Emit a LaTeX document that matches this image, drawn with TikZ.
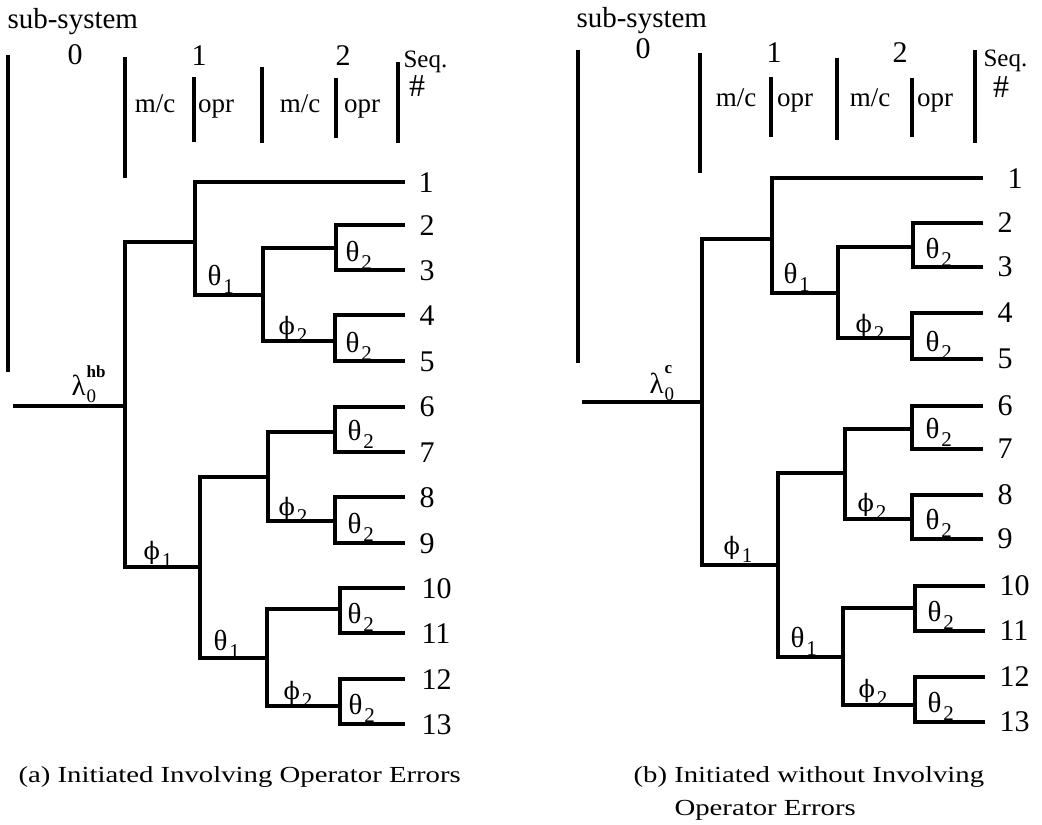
\documentclass[tikz,border=0pt]{standalone}
\usepackage{fontspec}
\setmainfont{Liberation Serif}
\newfontfamily\capfont[FakeStretch=1.25]{Liberation Serif}
\newfontfamily\phifont{DejaVu Serif}
\newcommand\gl[2]{#1\kern2pt\raisebox{-8pt}{\fontsize{21}{21}\selectfont #2}}
\newcommand\ph{{\phifont\fontsize{24}{24}\selectfont ϕ}}
\newcommand\lam[2]{λ\kern1pt\rlap{\raisebox{-7pt}{\fontsize{19}{19}\selectfont 0}}\raisebox{#2}{\fontsize{17}{17}\selectfont\bfseries #1}}
\begin{document}
\begin{tikzpicture}[x=1pt,y=-1pt,
  every path/.style={line width=3.1pt, line join=miter},
  txt/.style={inner sep=0pt, font=\fontsize{27}{27}\selectfont},
  num/.style={inner sep=0pt, anchor=base west, font=\fontsize{30}{30}\selectfont},
  lab/.style={inner sep=0pt, anchor=base west, font=\fontsize{29}{29}\selectfont},
  hd/.style={txt, anchor=base},
  hdl/.style={txt, anchor=base west},
  big/.style={inner sep=0pt, anchor=base, font=\fontsize{30}{30}\selectfont},
  captxt/.style={inner sep=0pt, anchor=base west, font=\capfont\fontsize{23}{23}\selectfont}]
\useasboundingbox (0,0) rectangle (1042,825);

% ================= panel (a) =================
% header
\node[txt, anchor=base west, font=\fontsize{29}{29}\selectfont] (asub) at (6,28) {sub-system};
\node[big] (ah0) at (75,64) {0};
\node[big] (ah1) at (199,65) {1};
\node[big] (ah2) at (343,65) {2};
\node[hd] (amc1) at (155,112) {m/c};
\node[hd] (aop1) at (216,112) {opr};
\node[hd] (amc2) at (300,112) {m/c};
\node[hd] (aop2) at (362,112) {opr};
\node[hdl, font=\fontsize{25}{25}\selectfont] (aseq) at (402,67) {Seq.};
\node[hd, font=\fontsize{32}{32}\selectfont] (ahash) at (417,96) {\#};
\coordinate (ab0t) at (8,55);   \coordinate (ab0b) at (8,372);
\coordinate (ab1t) at (125,57); \coordinate (ab1b) at (125,178);
\coordinate (ab2t) at (194,77); \coordinate (ab2b) at (194,142);
\coordinate (ab3t) at (262,67); \coordinate (ab3b) at (262,143);
\coordinate (ab4t) at (336,78); \coordinate (ab4b) at (336,138);
\coordinate (ab5t) at (398,62); \coordinate (ab5b) at (398,143);
\draw (ab0t) -- (ab0b); \draw (ab1t) -- (ab1b); \draw (ab2t) -- (ab2b);
\draw (ab3t) -- (ab3b); \draw (ab4t) -- (ab4b); \draw (ab5t) -- (ab5b);

% tree
\coordinate (aR0) at (13,406);  \coordinate (aR) at (125,406);
\coordinate (aRt) at (125,242); \coordinate (aRb) at (125,567);
\coordinate (aU) at (195,242);  \coordinate (aUt) at (195,182); \coordinate (aUb) at (195,295);
\coordinate (aL1) at (405,182);
\coordinate (aV) at (263,295);  \coordinate (aVt) at (263,248); \coordinate (aVb) at (263,341);
\coordinate (aW1) at (336,248); \coordinate (aW1t) at (336,225); \coordinate (aW1b) at (336,270);
\coordinate (aL2) at (405,225); \coordinate (aL3) at (405,270);
\coordinate (aW2) at (335,341); \coordinate (aW2t) at (335,315); \coordinate (aW2b) at (335,361);
\coordinate (aL4) at (405,315); \coordinate (aL5) at (405,361);
\coordinate (aD) at (200,567);  \coordinate (aDt) at (200,477); \coordinate (aDb) at (200,658);
\coordinate (aE) at (268,477);  \coordinate (aEt) at (268,432); \coordinate (aEb) at (268,521);
\coordinate (aW3) at (335,432); \coordinate (aW3t) at (335,407); \coordinate (aW3b) at (335,452);
\coordinate (aL6) at (405,407); \coordinate (aL7) at (405,452);
\coordinate (aW4) at (335,521); \coordinate (aW4t) at (335,497); \coordinate (aW4b) at (335,543);
\coordinate (aL8) at (405,497); \coordinate (aL9) at (405,543);
\coordinate (aF) at (267,658);  \coordinate (aFt) at (267,609); \coordinate (aFb) at (267,706);
\coordinate (aW5) at (340,609); \coordinate (aW5t) at (340,588); \coordinate (aW5b) at (340,633);
\coordinate (aL10) at (405,588); \coordinate (aL11) at (405,633);
\coordinate (aW6) at (340,706); \coordinate (aW6t) at (340,679); \coordinate (aW6b) at (340,724);
\coordinate (aL12) at (405,679); \coordinate (aL13) at (405,724);

\draw (aR0) -- (aR);
\draw (aU) -- (aRt) -- (aRb) -- (aD);
\draw (aL1) -- (aUt) -- (aUb) -- (aV);
\draw (aW1) -- (aVt) -- (aVb) -- (aW2);
\draw (aL2) -- (aW1t) -- (aW1b) -- (aL3);
\draw (aL4) -- (aW2t) -- (aW2b) -- (aL5);
\draw (aE) -- (aDt) -- (aDb) -- (aF);
\draw (aW3) -- (aEt) -- (aEb) -- (aW4);
\draw (aL6) -- (aW3t) -- (aW3b) -- (aL7);
\draw (aL8) -- (aW4t) -- (aW4b) -- (aL9);
\draw (aW5) -- (aFt) -- (aFb) -- (aW6);
\draw (aL10) -- (aW5t) -- (aW5b) -- (aL11);
\draw (aL12) -- (aW6t) -- (aW6b) -- (aL13);

% leaf numbers
\node[num] (an1) at (417,192) {1};
\node[num] (an2) at (418,235) {2};
\node[num] (an3) at (418,280) {3};
\node[num] (an4) at (418,325) {4};
\node[num] (an5) at (418,371) {5};
\node[num] (an6) at (418,416) {6};
\node[num] (an7) at (418,462) {7};
\node[num] (an8) at (418,507) {8};
\node[num] (an9) at (418,553) {9};
\node[num] (an10) at (420,598) {10};
\node[num] (an11) at (420,643) {11};
\node[num] (an12) at (420,689) {12};
\node[num] (an13) at (420,734) {13};

% branch labels
\node[lab] (alam) at (70,395) {\lam{hb}{18pt}};
\node[lab] (at1u) at (206,285) {\gl{θ}{1}};
\node[lab] (at2a) at (344,261) {\gl{θ}{2}};
\node[lab] (af2u) at (277,334) {\gl{\ph}{2}};
\node[lab] (at2b) at (344,352) {\gl{θ}{2}};
\node[lab] (af1) at (142,559) {\gl{\ph}{1}};
\node[lab] (at2c) at (346,440) {\gl{θ}{2}};
\node[lab] (af2m) at (277,515) {\gl{\ph}{2}};
\node[lab] (at2d) at (346,533) {\gl{θ}{2}};
\node[lab] (at1l) at (212,650) {\gl{θ}{1}};
\node[lab] (at2e) at (346,623) {\gl{θ}{2}};
\node[lab] (af2l) at (282,699) {\gl{\ph}{2}};
\node[lab] (at2f) at (347,714) {\gl{θ}{2}};

\node[captxt] (acap) at (17,782) {(a) Initiated Involving Operator Errors};

% ================= panel (b) =================
\node[txt, anchor=base west, font=\fontsize{29}{29}\selectfont] (bsub) at (575,27) {sub-system};
\node[big] (bh0) at (643,58) {0};
\node[big] (bh1) at (774,62) {1};
\node[big] (bh2) at (900,62) {2};
\node[hd] (bmc1) at (736,106) {m/c};
\node[hd] (bop1) at (795,106) {opr};
\node[hd] (bmc2) at (870,106) {m/c};
\node[hd] (bop2) at (935,106) {opr};
\node[hdl, font=\fontsize{25}{25}\selectfont] (bseq) at (982,66) {Seq.};
\node[hd, font=\fontsize{32}{32}\selectfont] (bhash) at (1001,97) {\#};
\coordinate (bb0t) at (578,50);  \coordinate (bb0b) at (578,363);
\coordinate (bb1t) at (700,53);  \coordinate (bb1b) at (700,173);
\coordinate (bb2t) at (771,77);  \coordinate (bb2b) at (771,137);
\coordinate (bb3t) at (837,58);  \coordinate (bb3b) at (837,140);
\coordinate (bb4t) at (912,78);  \coordinate (bb4b) at (912,137);
\coordinate (bb5t) at (975,50);  \coordinate (bb5b) at (975,143);
\draw (bb0t) -- (bb0b); \draw (bb1t) -- (bb1b); \draw (bb2t) -- (bb2b);
\draw (bb3t) -- (bb3b); \draw (bb4t) -- (bb4b); \draw (bb5t) -- (bb5b);

\coordinate (bR0) at (582,402);  \coordinate (bR) at (702,402);
\coordinate (bRt) at (702,239);  \coordinate (bRb) at (702,565);
\coordinate (bU) at (772,239);   \coordinate (bUt) at (772,178); \coordinate (bUb) at (772,293);
\coordinate (bL1) at (983,178);
\coordinate (bV) at (838,293);   \coordinate (bVt) at (838,247); \coordinate (bVb) at (838,338);
\coordinate (bW1) at (913,247);  \coordinate (bW1t) at (913,223); \coordinate (bW1b) at (913,267);
\coordinate (bL2) at (983,223);  \coordinate (bL3) at (983,267);
\coordinate (bW2) at (912,338);  \coordinate (bW2t) at (912,313); \coordinate (bW2b) at (912,359);
\coordinate (bL4) at (983,313);  \coordinate (bL5) at (983,359);
\coordinate (bD) at (778,565);   \coordinate (bDt) at (778,473); \coordinate (bDb) at (778,657);
\coordinate (bE) at (845,473);   \coordinate (bEt) at (845,429); \coordinate (bEb) at (845,519);
\coordinate (bW3) at (912,429);  \coordinate (bW3t) at (912,406); \coordinate (bW3b) at (912,449);
\coordinate (bL6) at (983,406);  \coordinate (bL7) at (983,449);
\coordinate (bW4) at (912,519);  \coordinate (bW4t) at (912,495); \coordinate (bW4b) at (912,539);
\coordinate (bL8) at (983,495);  \coordinate (bL9) at (983,539);
\coordinate (bF) at (843,657);   \coordinate (bFt) at (843,608); \coordinate (bFb) at (843,705);
\coordinate (bW5) at (915,608);  \coordinate (bW5t) at (915,586); \coordinate (bW5b) at (915,631);
\coordinate (bL10) at (985,586); \coordinate (bL11) at (985,631);
\coordinate (bW6) at (915,705);  \coordinate (bW6t) at (915,677); \coordinate (bW6b) at (915,722);
\coordinate (bL12) at (985,677); \coordinate (bL13) at (985,722);

\draw (bR0) -- (bR);
\draw (bU) -- (bRt) -- (bRb) -- (bD);
\draw (bL1) -- (bUt) -- (bUb) -- (bV);
\draw (bW1) -- (bVt) -- (bVb) -- (bW2);
\draw (bL2) -- (bW1t) -- (bW1b) -- (bL3);
\draw (bL4) -- (bW2t) -- (bW2b) -- (bL5);
\draw (bE) -- (bDt) -- (bDb) -- (bF);
\draw (bW3) -- (bEt) -- (bEb) -- (bW4);
\draw (bL6) -- (bW3t) -- (bW3b) -- (bL7);
\draw (bL8) -- (bW4t) -- (bW4b) -- (bL9);
\draw (bW5) -- (bFt) -- (bFb) -- (bW6);
\draw (bL10) -- (bW5t) -- (bW5b) -- (bL11);
\draw (bL12) -- (bW6t) -- (bW6b) -- (bL13);

\node[num] (bn1) at (1006,188) {1};
\node[num] (bn2) at (996,232) {2};
\node[num] (bn3) at (996,276) {3};
\node[num] (bn4) at (996,322) {4};
\node[num] (bn5) at (996,368) {5};
\node[num] (bn6) at (996,415) {6};
\node[num] (bn7) at (996,458) {7};
\node[num] (bn8) at (996,504) {8};
\node[num] (bn9) at (996,548) {9};
\node[num] (bn10) at (998,595) {10};
\node[num] (bn11) at (998,640) {11};
\node[num] (bn12) at (998,686) {12};
\node[num] (bn13) at (998,731) {13};

\node[lab] (blam) at (648,393) {\lam{c}{20pt}};
\node[lab] (bt1u) at (782,283) {\gl{θ}{1}};
\node[lab] (bt2a) at (924,258) {\gl{θ}{2}};
\node[lab] (bf2u) at (854,332) {\gl{\ph}{2}};
\node[lab] (bt2b) at (924,351) {\gl{θ}{2}};
\node[lab] (bf1) at (722,554) {\gl{\ph}{1}};
\node[lab] (bt2c) at (924,438) {\gl{θ}{2}};
\node[lab] (bf2m) at (856,511) {\gl{\ph}{2}};
\node[lab] (bt2d) at (924,529) {\gl{θ}{2}};
\node[lab] (bt1l) at (789,647) {\gl{θ}{1}};
\node[lab] (bt2e) at (926,621) {\gl{θ}{2}};
\node[lab] (bf2l) at (857,697) {\gl{\ph}{2}};
\node[lab] (bt2f) at (926,712) {\gl{θ}{2}};

\node[captxt] (bcap1) at (632,782) {(b) Initiated without Involving};
\node[captxt] (bcap2) at (673,815) {Operator Errors};
\end{tikzpicture}
\end{document}
